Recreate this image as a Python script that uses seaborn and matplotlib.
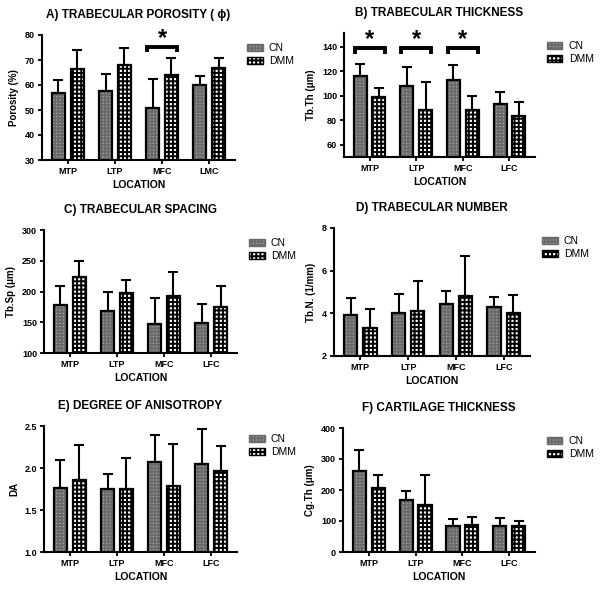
import numpy as np
import pandas as pd
import matplotlib
matplotlib.use("Agg")
import matplotlib.pyplot as plt
from matplotlib.patches import Patch, Rectangle
import seaborn as sns

# Data (mean and upper SD per location)
groups = ["CN", "DMM"]
loc_a = ["MTP", "LTP", "MFC", "LMC"]
loc_bf = ["MTP", "LTP", "MFC", "LFC"]

poro_cn = [57, 57.5, 51, 60]
poro_cn_sd = [5, 7, 11.5, 3.5]
poro_dmm = [66.5, 68, 64, 67]
poro_dmm_sd = [7.5, 7, 7, 4]

tbth_cn = [116, 108, 113, 93]
tbth_cn_sd = [10, 15, 12, 10]
tbth_dmm = [99, 88, 88, 83.5]
tbth_dmm_sd = [7, 23, 12, 11]

tbsp_cn = [178, 169, 147, 148]
tbsp_cn_sd = [31, 30, 42, 32]
tbsp_dmm = [223, 197, 193, 175]
tbsp_dmm_sd = [27, 21, 39, 34]

tbn_cn = [3.9, 4.0, 4.45, 4.3]
tbn_cn_sd = [0.8, 0.9, 0.6, 0.45]
tbn_dmm = [3.3, 4.1, 4.8, 4.0]
tbn_dmm_sd = [0.9, 1.4, 1.9, 0.85]

da_cn = [1.76, 1.75, 2.07, 2.05]
da_cn_sd = [0.33, 0.18, 0.32, 0.41]
da_dmm = [1.86, 1.75, 1.78, 1.97]
da_dmm_sd = [0.41, 0.37, 0.50, 0.29]

cgth_cn = [262, 167, 83, 85]
cgth_cn_sd = [68, 31, 22, 25]
cgth_dmm = [207, 152, 87, 85]
cgth_dmm_sd = [43, 96, 27, 15]

sns.set_style("ticks")
plt.rcParams["font.family"] = ["Liberation Sans", "DejaVu Sans"]
plt.rcParams["hatch.linewidth"] = 1.4
for k in ["text.color", "axes.labelcolor", "xtick.color", "ytick.color", "axes.edgecolor"]:
    plt.rcParams[k] = "black"

fills = {"CN": "#a3a3a3", "DMM": "#ffffff"}
hatches = {"CN": "+++++", "DMM": "++++"}
hatch_cols = {"CN": "#6a6a6a", "DMM": "#000000"}

fig = plt.figure(figsize=(6, 5.91), dpi=100)


def px_rect(l, t, r, b):
    return [l / 600, 1 - b / 591, (r - l) / 600, (b - t) / 591]


def draw_panel(rect, title, ylabel, locs, cn, cn_sd, dmm, dmm_sd,
               ylim, yticks, yfmt, stars=(), star_y=None):
    ax = fig.add_axes(px_rect(*rect))
    df = pd.DataFrame({"location": locs * 2,
                       "group": ["CN"] * len(locs) + ["DMM"] * len(locs),
                       "value": cn + dmm})
    sns.barplot(data=df, x="location", y="value", hue="group", order=locs,
                hue_order=groups, palette=fills, saturation=1, width=0.8,
                gap=0.3, errorbar=None, legend=False, ax=ax)
    for cont, sds, key in zip(ax.containers, [cn_sd, dmm_sd], groups):
        for bar, sd in zip(cont, sds):
            bar.set_hatch(hatches[key])
            bar.set_edgecolor(hatch_cols[key])
            bar.set_linewidth(0)
            ax.add_patch(Rectangle((bar.get_x(), bar.get_y()), bar.get_width(),
                                   bar.get_height(), fill=False, ec="black",
                                   lw=1.6, zorder=2))
            xc = bar.get_x() + bar.get_width() / 2
            ax.errorbar(xc, bar.get_height(), yerr=[[0], [sd]], fmt="none",
                        ecolor="black", elinewidth=1.5, capsize=3.5,
                        capthick=1.5, zorder=3)

    ax.set_xlim(-0.55, 3.55)
    ax.set_ylim(*ylim)
    ax.set_yticks(yticks)
    ax.set_yticklabels([yfmt.format(v) for v in yticks])
    sns.despine(ax=ax)
    for s in ["left", "bottom"]:
        ax.spines[s].set_linewidth(1.5)
    ax.tick_params(width=1.3, length=3, labelsize=6.5, pad=2)
    for lab in ax.get_xticklabels() + ax.get_yticklabels():
        lab.set_fontweight("bold")
    ax.set_xlabel("LOCATION", fontsize=7.5, fontweight="bold", labelpad=3)
    ax.set_ylabel(ylabel, fontsize=7, fontweight="bold", labelpad=4)
    ax.set_title(title, fontsize=8.5, fontweight="bold", pad=12)

    span = ylim[1] - ylim[0]
    for i in stars:
        h = span * 0.045
        ax.plot([i - 0.32, i - 0.32, i + 0.32, i + 0.32],
                [star_y - h, star_y, star_y, star_y - h],
                color="black", lw=2.8, clip_on=False, zorder=4,
                solid_joinstyle="miter", solid_capstyle="butt")
        ax.text(i, star_y - span * 0.025, "*", ha="center", va="bottom",
                fontsize=17, fontweight="bold", clip_on=False)

    handles = [Patch(facecolor=fills[g], edgecolor=hatch_cols[g],
                     hatch=hatches[g], label=g) for g in groups]
    ax.legend(handles=handles, loc="upper left", bbox_to_anchor=(1.04, 0.97),
              frameon=False, fontsize=7.5, handlelength=1.5, handleheight=0.7,
              borderaxespad=0, handletextpad=0.6, labelspacing=0.3)
    return ax


draw_panel((42, 35, 235, 160), "A) TRABECULAR POROSITY ( \u03d5)", "Porosity (%)",
           loc_a, poro_cn, poro_cn_sd, poro_dmm, poro_dmm_sd,
           (30, 80), [30, 40, 50, 60, 70, 80], "{:.0f}", stars=[2], star_y=75.3)
draw_panel((344, 33, 535, 157), "B) TRABECULAR THICKNESS", "Tb.Th (\u03bcm)",
           loc_bf, tbth_cn, tbth_cn_sd, tbth_dmm, tbth_dmm_sd,
           (50, 151), [60, 80, 100, 120, 140], "{:.0f}", stars=[0, 1, 2], star_y=138.5)
draw_panel((44, 230, 237, 353), "C) TRABECULAR SPACING", "Tb.Sp (\u03bcm)",
           loc_bf, tbsp_cn, tbsp_cn_sd, tbsp_dmm, tbsp_dmm_sd,
           (100, 300), [100, 150, 200, 250, 300], "{:.0f}")
draw_panel((334, 228, 530, 356), "D) TRABECULAR NUMBER", "Tb.N. (1/mm)",
           loc_bf, tbn_cn, tbn_cn_sd, tbn_dmm, tbn_dmm_sd,
           (2, 8), [2, 4, 6, 8], "{:.0f}")
draw_panel((44, 426, 237, 552), "E) DEGREE OF ANISOTROPY", "DA",
           loc_bf, da_cn, da_cn_sd, da_dmm, da_dmm_sd,
           (1.0, 2.5), [1.0, 1.5, 2.0, 2.5], "{:.1f}")
draw_panel((343, 428, 535, 552), "F) CARTILAGE THICKNESS", "Cg.Th (\u03bcm)",
           loc_bf, cgth_cn, cgth_cn_sd, cgth_dmm, cgth_dmm_sd,
           (0, 400), [0, 100, 200, 300, 400], "{:.0f}")

fig.savefig("out.png", dpi=100, facecolor="white")
